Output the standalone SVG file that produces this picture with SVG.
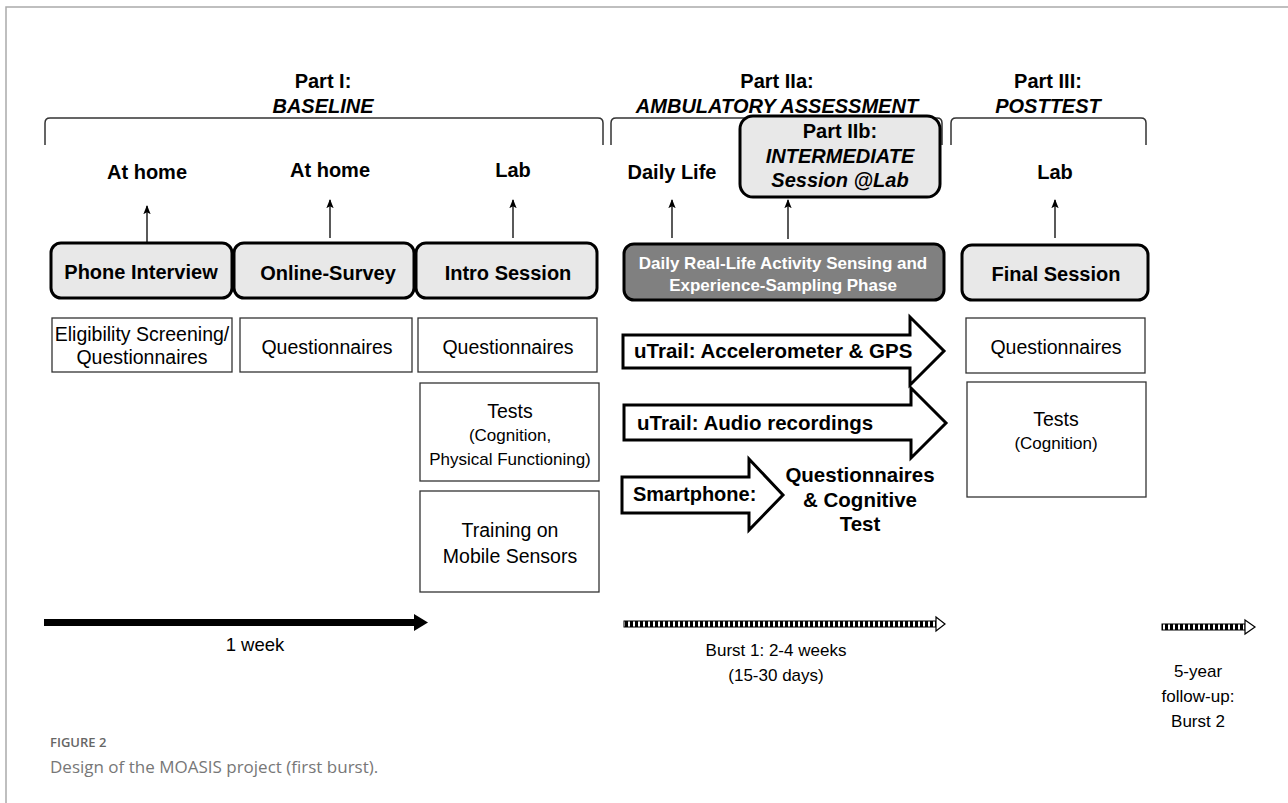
<svg xmlns="http://www.w3.org/2000/svg" width="1288" height="803" viewBox="0 0 1288 803">
<defs>
<style>
.t{font-family:"Liberation Sans",Arial,sans-serif;fill:#000;text-anchor:middle}
.b{font-weight:bold;font-size:20px}
.bi{font-weight:bold;font-style:italic;font-size:20px}
.n{font-size:19.5px}
.s{font-size:17px}
.node{fill:#e8e8e8;stroke:#000;stroke-width:3}
.box{fill:#fff;stroke:#333;stroke-width:1.3}
.brace{fill:none;stroke:#333;stroke-width:1.5}
.up{stroke:#000;stroke-width:1.3;fill:none}
.blk{fill:#fff;stroke:#000;stroke-width:3;stroke-linejoin:miter}
.w{fill:#fff;font-weight:bold;font-size:17px}
</style>
<marker id="ah" viewBox="0 0 10 10" refX="9" refY="5" markerWidth="7" markerHeight="7" orient="auto">
<path d="M0,1 L10,5 L0,9 L2,5 Z" fill="#000"/>
</marker>
<pattern id="hatch" width="5" height="10" patternUnits="userSpaceOnUse">
<rect width="5" height="10" fill="#fff"/>
<rect width="3" height="10" fill="#000"/>
</pattern>
</defs>
<rect width="1288" height="803" fill="#fff"/>
<path d="M6,803 V7 H1288" fill="none" stroke="#aaa" stroke-width="1.5"/>

<g id="headers">
<text class="t b" x="323" y="88">Part I:</text>
<text class="t bi" x="323" y="113">BASELINE</text>
<text class="t b" x="777" y="88">Part IIa:</text>
<text class="t bi" x="777" y="113">AMBULATORY ASSESSMENT</text>
<text class="t b" x="1048" y="88">Part III:</text>
<text class="t bi" x="1048" y="113">POSTTEST</text>
<path class="brace" d="M45,145 V123 Q45,118 50,118 H598 Q603,118 603,123 V145"/>
<path class="brace" d="M611,145 V123 Q611,118 616,118 H937 Q942,118 942,123 V145"/>
<path class="brace" d="M951,145 V123 Q951,118 956,118 H1141 Q1146,118 1146,123 V145"/>
</g>

<g id="locations">
<text class="t b" x="147" y="179">At home</text>
<text class="t b" x="330" y="177">At home</text>
<text class="t b" x="513" y="177">Lab</text>
<text class="t b" x="672" y="179">Daily Life</text>
<text class="t b" x="1055" y="179">Lab</text>
</g>

<g id="partIIb">
<rect class="node" x="740" y="116" width="200" height="81" rx="13"/>
<text class="t b" x="840" y="138">Part IIb:</text>
<text class="t bi" x="840" y="163">INTERMEDIATE</text>
<text class="t bi" x="840" y="187">Session @Lab</text>
</g>

<g id="connectors">
<line class="up" x1="147" y1="243" x2="147" y2="206" marker-end="url(#ah)"/>
<line class="up" x1="330" y1="238" x2="330" y2="200" marker-end="url(#ah)"/>
<line class="up" x1="513" y1="238" x2="513" y2="200" marker-end="url(#ah)"/>
<line class="up" x1="672" y1="238" x2="672" y2="200" marker-end="url(#ah)"/>
<line class="up" x1="788" y1="239" x2="788" y2="200" marker-end="url(#ah)"/>
<line class="up" x1="1055" y1="238" x2="1055" y2="200" marker-end="url(#ah)"/>
</g>

<g id="phone">
<rect class="node" x="51" y="243" width="181" height="55" rx="10"/>
<text class="t b" x="141" y="279">Phone Interview</text>
<rect class="box" x="52" y="318" width="180" height="54"/>
<text class="t n" x="142" y="341">Eligibility Screening/</text>
<text class="t n" x="142" y="364">Questionnaires</text>
</g>

<g id="online">
<rect class="node" x="234" y="243" width="180" height="55" rx="10"/>
<text class="t b" x="328" y="280">Online-Survey</text>
<rect class="box" x="240" y="318" width="172" height="54"/>
<text class="t n" x="327" y="354">Questionnaires</text>
</g>

<g id="intro">
<rect class="node" x="416" y="243" width="181" height="55" rx="10"/>
<text class="t b" x="508" y="280">Intro Session</text>
<rect class="box" x="418" y="318" width="179" height="54"/>
<text class="t n" x="508" y="354">Questionnaires</text>
<rect class="box" x="420" y="383" width="179" height="98"/>
<text class="t n" x="510" y="418">Tests</text>
<text class="t s" x="510" y="441">(Cognition,</text>
<text class="t s" x="510" y="465">Physical Functioning)</text>
<rect class="box" x="420" y="491" width="179" height="101"/>
<text class="t n" x="510" y="537">Training on</text>
<text class="t n" x="510" y="563">Mobile Sensors</text>
</g>

<g id="daily">
<rect x="624" y="244" width="320" height="56" rx="10" fill="#808080" stroke="#000" stroke-width="3"/>
<text class="t w" x="783" y="269">Daily Real-Life Activity Sensing and</text>
<text class="t w" x="783" y="291">Experience-Sampling Phase</text>
</g>

<g id="utrail-acc">
<path class="blk" d="M623,335 H910 V317 L944,351 L910,385 V368 H623 Z"/>
<text class="t b" x="634" y="358" style="text-anchor:start;font-size:20.5px">uTrail: Accelerometer &amp; GPS</text>
</g>
<g id="utrail-audio">
<path class="blk" d="M624,405 H911 V388 L946,423 L911,458 V440 H624 Z"/>
<text class="t b" x="637" y="430" style="text-anchor:start;font-size:20.5px">uTrail: Audio recordings</text>
</g>
<g id="smartphone">
<path class="blk" d="M622,477 H749 V459 L783,495 L749,530 V513 H622 Z"/>
<text class="t b" x="633" y="501" style="text-anchor:start">Smartphone:</text>
<text class="t b" x="860" y="482" style="font-size:20.5px">Questionnaires</text>
<text class="t b" x="860" y="507" style="font-size:20.5px">&amp; Cognitive</text>
<text class="t b" x="860" y="531" style="font-size:20.5px">Test</text>
</g>

<g id="final">
<rect class="node" x="962" y="245" width="186" height="55" rx="10"/>
<text class="t b" x="1056" y="281">Final Session</text>
<rect class="box" x="966" y="318" width="179" height="55"/>
<text class="t n" x="1056" y="354">Questionnaires</text>
<rect class="box" x="967" y="382" width="179" height="115"/>
<text class="t n" x="1056" y="426">Tests</text>
<text class="t s" x="1056" y="449">(Cognition)</text>
</g>

<g id="timeline">
<rect x="44" y="619" width="372" height="7" fill="#000"/>
<path d="M414,614 L428,622.5 L414,631 Z" fill="#000"/>
<text class="t n" x="255" y="651" style="font-size:18.5px">1 week</text>
<rect x="624" y="621" width="312" height="6" fill="url(#hatch)" stroke="#000" stroke-width="1"/>
<path d="M936,617 L945,624 L936,631 Z" fill="#fff" stroke="#000" stroke-width="1.2"/>
<text class="t s" x="776" y="656">Burst 1: 2-4 weeks</text>
<text class="t s" x="776" y="681">(15-30 days)</text>
<rect x="1162" y="624" width="83" height="6" fill="url(#hatch)" stroke="#000" stroke-width="1"/>
<path d="M1245,620 L1255,627 L1245,634 Z" fill="#fff" stroke="#000" stroke-width="1.2"/>
<text class="t s" x="1198" y="677">5-year</text>
<text class="t s" x="1198" y="702">follow-up:</text>
<text class="t s" x="1198" y="727">Burst 2</text>
</g>

<g id="caption">
<text x="50" y="747" font-family="'Open Sans','Liberation Sans',sans-serif" font-size="13" font-weight="600" fill="#666">FIGURE 2</text>
<text x="50" y="773" font-family="'Open Sans','Liberation Sans',sans-serif" font-size="17" fill="#777">Design of the MOASIS project (first burst).</text>
</g>
</svg>
